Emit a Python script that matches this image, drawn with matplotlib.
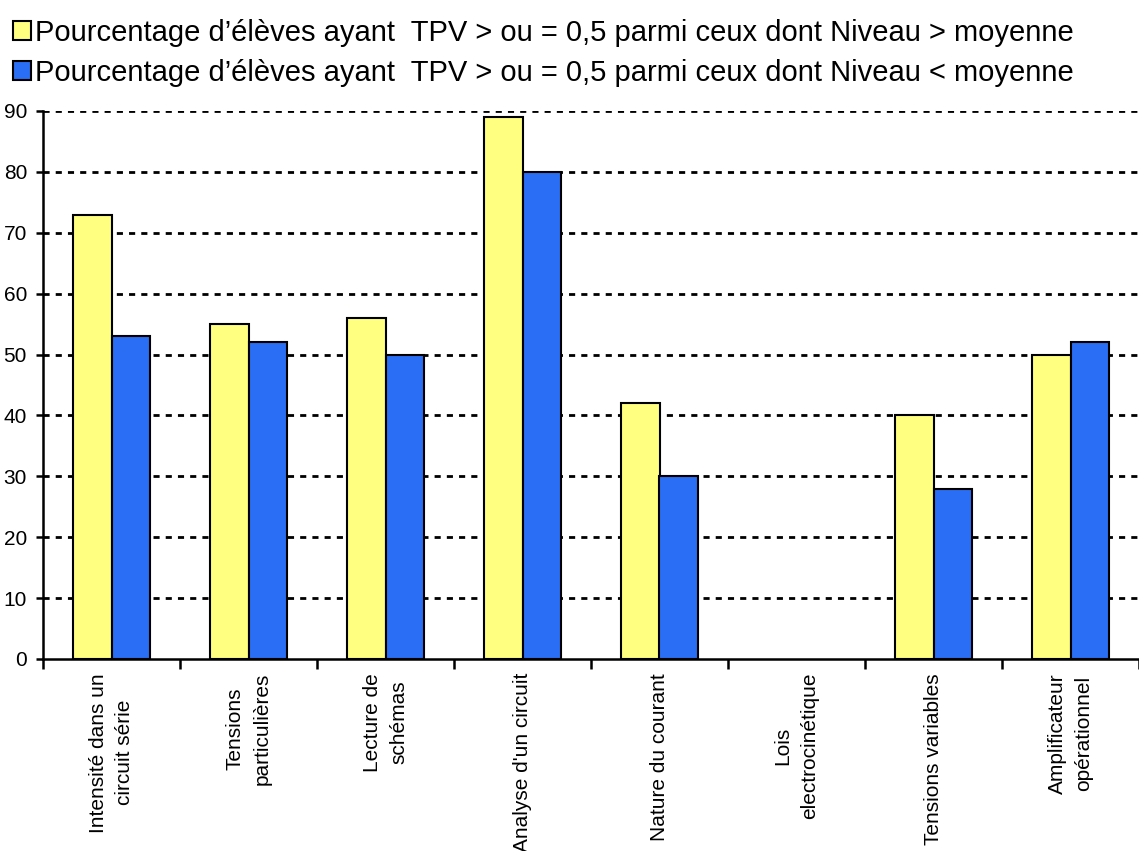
import matplotlib.pyplot as plt
import numpy as np
from matplotlib.patches import Patch

plt.rcParams['font.family'] = ['Liberation Sans', 'DejaVu Sans']

categories = ["Intensité dans un\ncircuit série", "Tensions\nparticulières", "Lecture de\nschémas",
              "Analyse d'un circuit", "Nature du courant", "Lois\nelectrocinétique",
              "Tensions variables", "Amplificateur\nopérationnel"]
above_avg = [73, 55, 56, 89, 42, 0, 40, 50]
below_avg = [53, 52, 50, 80, 30, 0, 28, 52]
labels = ["Pourcentage d\u2019élèves ayant  TPV > ou = 0,5 parmi ceux dont Niveau > moyenne",
          "Pourcentage d\u2019élèves ayant  TPV > ou = 0,5 parmi ceux dont Niveau < moyenne"]
yellow = '#FFFF80'
blue = '#2A6EF5'

fig = plt.figure(figsize=(11.39, 8.51), dpi=100)
ax = fig.add_axes([43/1139, 192/851, 1096/1139, 548/851])

x = np.arange(len(categories))
w = 0.28
ax.bar(x - w/2, above_avg, w, color=yellow, edgecolor='black',
       linewidth=[1.5 if v else 0 for v in above_avg], zorder=3)
ax.bar(x + w/2, below_avg, w, color=blue, edgecolor='black',
       linewidth=[1.5 if v else 0 for v in below_avg], zorder=3)

ax.set_xlim(-0.5, len(categories) - 0.5)
ax.set_ylim(0, 90)
ax.set_yticks(range(0, 91, 10))
for yv in range(10, 91, 10):
    ax.axhline(yv, color='black', linewidth=2.0, linestyle=(0, (2.2, 2.2)), zorder=1)

ax.set_xticks(x)
ax.set_xticklabels(categories, rotation=90, fontsize=15, ha='center', va='top',
                   multialignment='center', linespacing=1.5)
ax.tick_params(axis='x', which='major', length=0, pad=10)
ax.set_xticks(np.arange(-0.5, len(categories) + 0.5, 1), minor=True)
ax.tick_params(axis='x', which='minor', length=7, width=1.8, direction='out')
ax.tick_params(axis='y', labelsize=15, length=5, width=1.8, direction='out', pad=6.5)

for s in ['top', 'right']:
    ax.spines[s].set_visible(False)
for s in ['left', 'bottom']:
    ax.spines[s].set_linewidth(1.8)

handles = [Patch(facecolor=yellow, edgecolor='black', linewidth=1.5),
           Patch(facecolor=blue, edgecolor='black', linewidth=1.5)]
fig.legend(handles, labels, loc='upper left', bbox_to_anchor=(-0.012, 1.009), frameon=False,
           fontsize=21, handlelength=0.62, handleheight=0.62, handletextpad=0.15, labelspacing=0.42)

fig.savefig('out.png', dpi=100)
